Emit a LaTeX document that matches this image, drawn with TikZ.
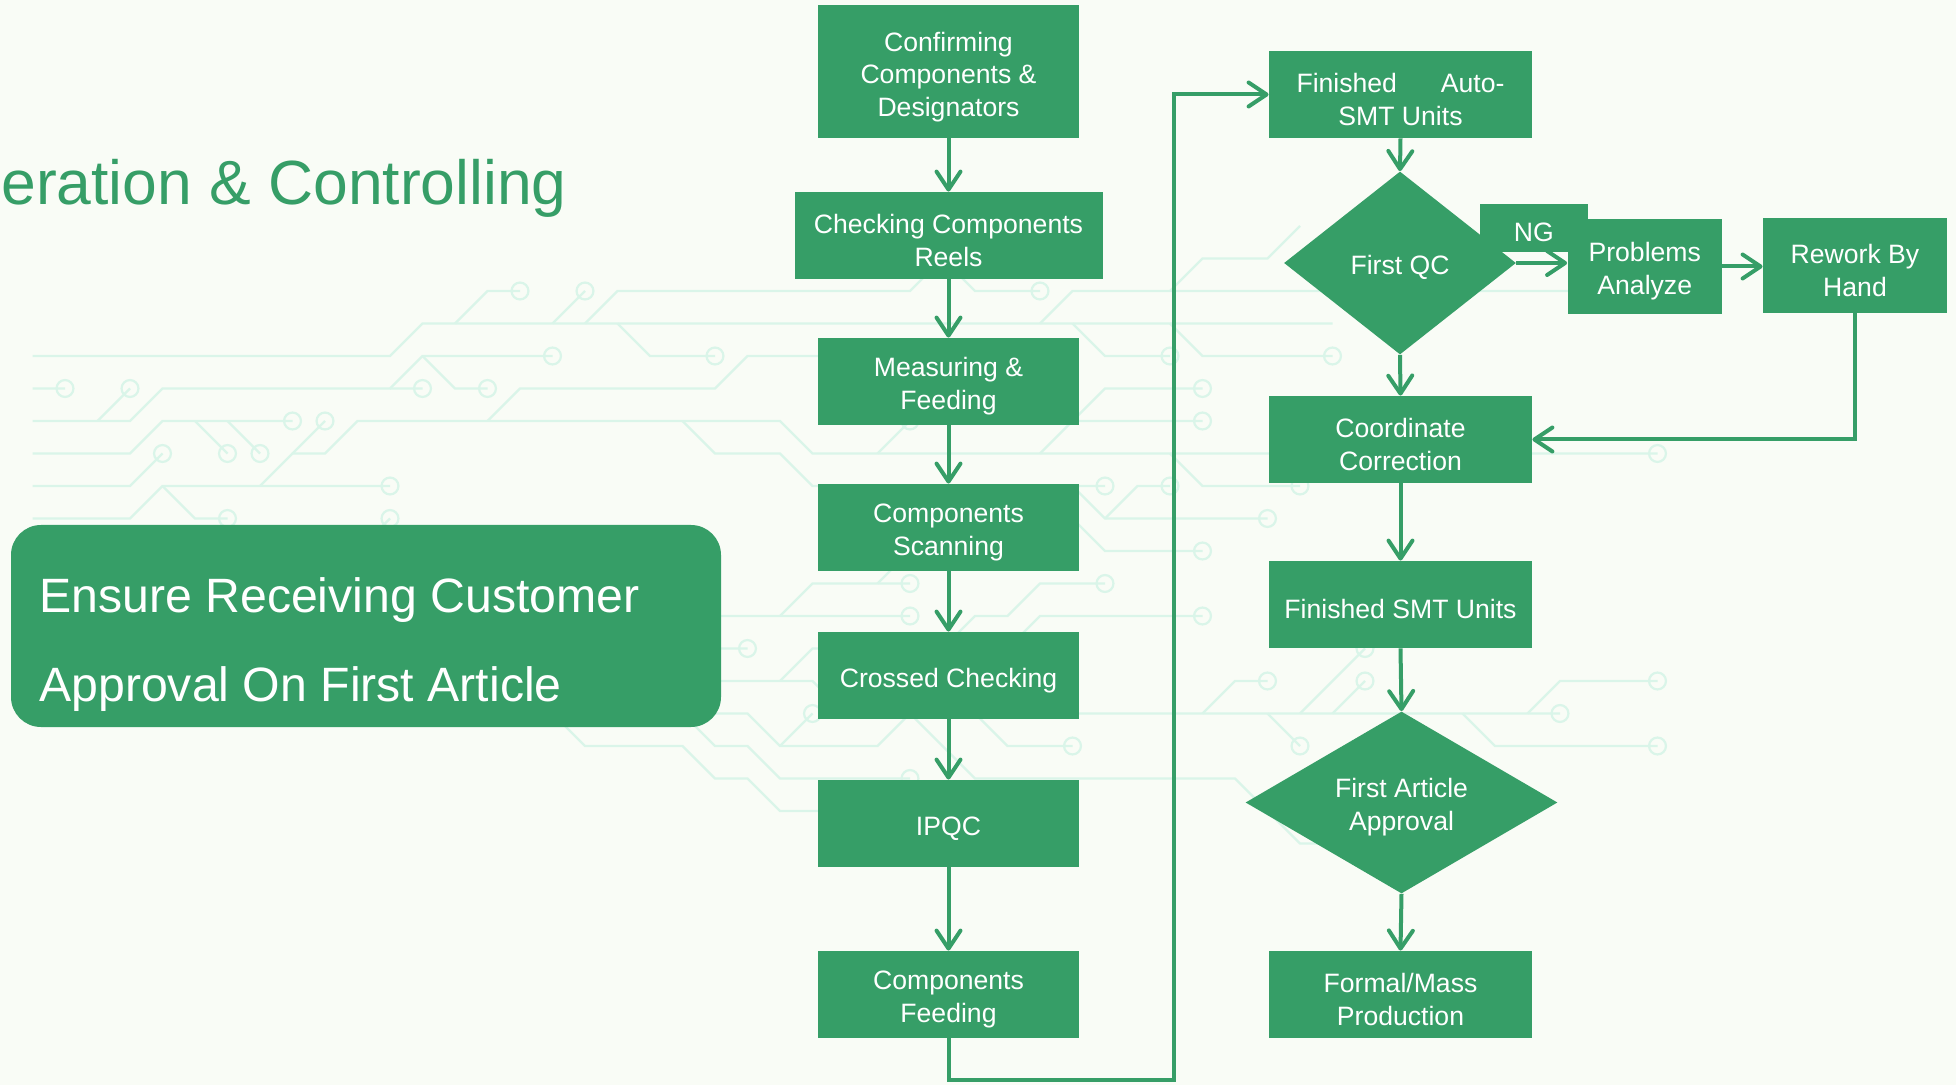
\documentclass[tikz,border=0pt]{standalone}
\usepackage{fontspec}
\setmainfont{Liberation Sans}
\usetikzlibrary{arrows.meta,shapes.geometric}
\definecolor{G}{RGB}{54,158,103}
\definecolor{BG}{RGB}{249,252,246}
\definecolor{CK}{RGB}{218,245,233}
\begin{document}
\begin{tikzpicture}[x=0.5pt,y=-0.5pt,
  box/.style={fill=G,inner sep=0pt,minimum width=130.5pt,minimum height=43.5pt},
  dia/.style={diamond,fill=G,inner sep=0pt},
  bt/.style={text=white,inner sep=0pt,align=center,font=\fontsize{13.3}{16.2}\selectfont,yshift=-2.4pt},
  arr/.style={draw=G,line width=2pt,-{Straight Barb[length=9pt,width=12pt,round]}},
  ckt/.style={draw=CK,line width=1.1pt},
  cr/.style={radius=.26}]
\useasboundingbox (0,0) rectangle (1956,1085);
\fill[BG] (0,0) rectangle (1956,1085);
% circuit background
\begin{scope}[yshift=-145.5pt,x=16.25pt,y=-16.25pt,ckt]
\draw (1,2)--(12,2)--(13,1)--(41,1);
\draw (14,1)--(15,0)--(16,0) circle[cr];
\draw (17,1)--(18,0) circle[cr];
\draw (18,1)--(19,0)--(28,0)--(29,-1)--(30,-2);
\draw (29,-1)--(30,0)--(32,0) circle[cr];
\draw (19,1)--(20,2)--(22,2) circle[cr];
\draw (32,1)--(33,0)--(49,0);
\draw (36,0)--(37,-1)--(39,-1)--(40,-2);
\draw (33,1)--(34,2)--(36,2) circle[cr];
\draw (36,1)--(37,2)--(41,2) circle[cr];
\draw (1,3)--(2,3) circle[cr];
\draw (3,4)--(4,3) circle[cr];
\draw (1,4)--(4,4)--(5,3)--(12,3)--(13,2)--(17,2) circle[cr];
\draw (12,3)--(13,3) circle[cr];
\draw (13,2)--(14,3)--(15,3) circle[cr];
\draw (15,4)--(16,3)--(22,3)--(23,2)--(30,2);
\draw (1,5)--(4,5)--(5,4)--(9,4) circle[cr];
\draw (6,4)--(7,5) circle[cr];
\draw (7,4)--(8,5) circle[cr];
\draw (1,6)--(4,6)--(5,5) circle[cr];
\draw (8,6)--(9,5)--(10,5)--(11,4)--(24,4)--(25,5)--(51,5) circle[cr];
\draw (9,5)--(10,4) circle[cr];
\draw (27,5)--(28,4) circle[cr];
\draw (21,4)--(22,5)--(24,5)--(25,6)--(34,6) circle[cr];
\draw (32,5)--(33,4)--(37,4) circle[cr];
\draw (33,4)--(34,3)--(37,3) circle[cr];
\draw (36,5)--(37,6)--(40,6) circle[cr];
\draw (33,6)--(34,7)--(39,7) circle[cr];
\draw (34,7)--(35,6)--(36,6) circle[cr];
\draw (33,7)--(34,8)--(37,8) circle[cr];
\draw (1,7)--(4,7)--(5,6)--(12,6) circle[cr];
\draw (5,6)--(6,7)--(7,7) circle[cr];
\draw (11,8)--(12,7) circle[cr];
\draw (22,10)--(28,10) circle[cr];
\draw (24,10)--(25,9)--(28,9) circle[cr];
\draw (27,9)--(28,8)--(29,8);
\draw (22,11)--(23,11) circle[cr];
\draw (22,12)--(25,12)--(26,13);
\draw (24,12)--(25,11)--(28,11) circle[cr];
\draw (29,11)--(30,10)--(31,10)--(32,9)--(34,9) circle[cr];
\draw (31,11)--(32,10)--(37,10) circle[cr];
\draw (21,13)--(23,13)--(24,14)--(27,14)--(28,13)--(29,12);
\draw (24,14)--(25,13) circle[cr];
\draw (21,13)--(22,14)--(23,14)--(24,15)--(28,15) circle[cr];
\draw (17,13)--(18,14)--(21,14)--(22,15)--(23,15)--(24,16)--(26,16);
\draw (30,13)--(31,14)--(33,14) circle[cr];
\draw (28,13)--(30,15)--(38,15)--(40,17)--(42,17);
\draw (32,13)--(48,13) circle[cr];
\draw (37,13)--(38,12)--(39,12) circle[cr];
\draw (39,13)--(40,14) circle[cr];
\draw (40,13)--(42,11) circle[cr];
\draw (41,13)--(42,12) circle[cr];
\draw (45,13)--(46,14)--(51,14) circle[cr];
\draw (47,13)--(48,12)--(51,12) circle[cr];
\end{scope}
% title
\node[anchor=base west,inner sep=0pt,text=G,font=\fontsize{31.2}{36}\selectfont] (title) at (1,205) {eration \& Controlling};
% left box
\node[fill=G,rounded corners=15pt,minimum width=355pt,minimum height=101pt,inner sep=0pt] (lb) at (366,626) {};
\node[anchor=base west,inner sep=0pt,text=white,font=\fontsize{24.1}{28}\selectfont] (lt1) at (39,612.7) {Ensure Receiving Customer};
\node[anchor=base west,inner sep=0pt,text=white,font=\fontsize{24.1}{28}\selectfont] (lt2) at (39,701) {Approval On First Article};
% left column
\node[box,minimum height=66.5pt,label={[bt,yshift=-0.4pt]center:{Confirming\\Components \&\\Designators}}] (b1) at (948.5,71.5) {};
\node[box,minimum width=154pt,label={[bt]center:{Checking Components\\Reels}}] (b2) at (948.5,235.5) {};
\node[box,label={[bt]center:{Measuring \&\\Feeding}}] (b3) at (948.5,381.5) {};
\node[box,label={[bt]center:{Components\\Scanning}}] (b4) at (948.5,527.5) {};
\node[box,label={[bt]center:{Crossed Checking}}] (b5) at (948.5,675.5) {};
\node[box,label={[bt]center:{IPQC}}] (b6) at (948.5,823.5) {};
\node[box,label={[bt]center:{Components\\Feeding}}] (b7) at (948.5,994.5) {};
% right column
\node[box,minimum width=131.5pt,label={[bt]center:{\makebox[104pt]{Finished\hfill Auto-}\\SMT Units}}] (r1) at (1400.5,94.5) {};
\node[dia,minimum width=116pt,minimum height=91.5pt,label={[bt]center:{First QC}}] (d1) at (1400,263) {};
\node[box,minimum width=53.75pt,minimum height=24pt,label={[bt]center:{NG}}] (ng) at (1533.75,228) {};
\node[box,minimum width=77.25pt,minimum height=47.5pt,label={[bt]center:{Problems\\Analyze}}] (p1) at (1644.75,266.5) {};
\node[box,minimum width=92pt,minimum height=47.5pt,label={[bt]center:{Rework By\\Hand}}] (rw) at (1855,265.5) {};
\node[box,minimum width=131.5pt,label={[bt]center:{Coordinate\\Correction}}] (cc) at (1400.5,439.5) {};
\node[box,minimum width=131.5pt,label={[bt]center:{Finished SMT Units}}] (fs) at (1400.5,604.5) {};
\node[dia,minimum width=156pt,minimum height=91pt,label={[bt]center:{First Article\\Approval}}] (d2) at (1401.5,802.5) {};
\node[box,minimum width=131.5pt,label={[bt]center:{Formal/Mass\\Production}}] (fm) at (1400.5,994.5) {};
% connectors
\draw[arr] (b1.south) -- (b2.north);
\draw[arr] (b2.south) -- (b3.north);
\draw[arr] (b3.south) -- (b4.north);
\draw[arr] (b4.south) -- (b5.north);
\draw[arr] (b5.south) -- (b6.north);
\draw[arr] (b6.south) -- (b7.north);
\coordinate (l1) at (948.5,1080);
\coordinate (l2) at (1174,1080);
\coordinate (l3) at (1174,94.5);
\draw[arr] (b7.south) -- (l1) -- (l2) -- (l3) -- (r1.west);
\draw[arr] (r1.south) -- (d1.north);
\draw[arr] (d1.east) -- (d1.east -| p1.west);
\draw[arr] (p1.east) -- (rw.west |- p1.east);
\draw[arr] (rw.south) |- (cc.east);
\draw[arr] (d1.south) -- (cc.north);
\draw[arr] (cc.south) -- (fs.north);
\draw[arr] (fs.south) -- (d2.north);
\draw[arr] (d2.south) -- (fm.north);
\end{tikzpicture}
\end{document}
